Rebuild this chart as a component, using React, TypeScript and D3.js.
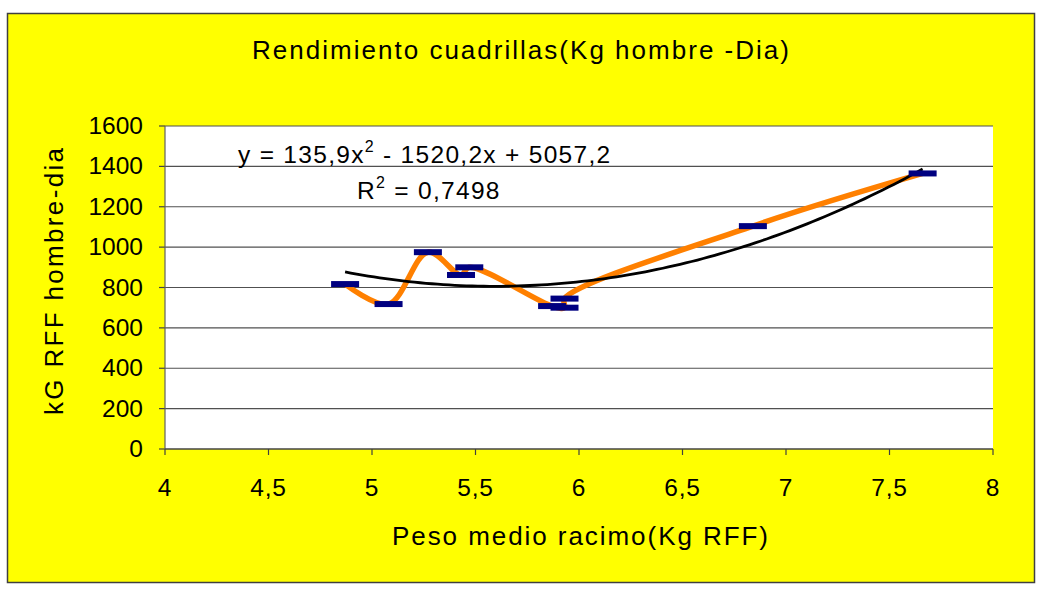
import React from "react";
import * as d3 from "d3";

const pesoX = [4.87, 5.08, 5.27, 5.43, 5.47, 5.87, 5.93, 5.93, 6.84, 7.66];
const rendY = [817, 718, 975, 862, 900, 708, 700, 745, 1104, 1365];
const xTicks = [4, 4.5, 5, 5.5, 6, 6.5, 7, 7.5, 8];
const yTicks = [0, 200, 400, 600, 800, 1000, 1200, 1400, 1600];
const coefA = 135.9;
const coefB = -1520.2;
const coefC = 5057.2;

const W = 1037;
const H = 592;
const M = { left: 165, right: 993, top: 126, bottom: 449 };
const font = "'Liberation Sans', Arial, sans-serif";

export default function App() {
  const x = d3.scaleLinear().domain([4, 8]).range([M.left, M.right]);
  const y = d3.scaleLinear().domain([0, 1600]).range([M.bottom, M.top]);
  const pts: [number, number][] = pesoX.map((v, i) => [v, rendY[i]]);
  const orange = d3
    .line<[number, number]>()
    .x((d) => x(d[0]))
    .y((d) => y(d[1]))
    .curve(d3.curveCatmullRom.alpha(0.5))(pts) as string;
  const xmin = d3.min(pesoX) as number;
  const xmax = d3.max(pesoX) as number;
  const trendPts: [number, number][] = d3
    .range(0, 101)
    .map((i) => {
      const xv = xmin + ((xmax - xmin) * i) / 100;
      return [xv, coefA * xv * xv + coefB * xv + coefC];
    });
  const trend = d3
    .line<[number, number]>()
    .x((d) => x(d[0]))
    .y((d) => y(d[1]))(trendPts) as string;
  const fmt = (v: number) => String(v).replace(".", ",");

  return (
    <svg width={W} height={H} style={{ position: "absolute", left: 0, top: 0 }} fontFamily={font}>
      <rect x={0} y={0} width={W} height={H} fill="#ffffff" />
      <rect x={7.5} y={13.5} width={1027} height={569} fill="#ffff00" stroke="#404040" strokeWidth={1.5} />
      <rect x={M.left} y={M.top} width={M.right - M.left} height={M.bottom - M.top} fill="#ffffff" />
      {yTicks.map((t) => (
        <g key={"y" + t}>
          <line x1={M.left} x2={M.right} y1={y(t)} y2={y(t)} stroke="#505050" strokeWidth={1.2} />
          <line x1={M.left - 6} x2={M.left} y1={y(t)} y2={y(t)} stroke="#404040" strokeWidth={1.2} />
          <text x={143} y={y(t) + 8} fontSize={24.5} textAnchor="end" fill="#000">
            {t}
          </text>
        </g>
      ))}
      {xTicks.map((t) => (
        <g key={"x" + t}>
          <line x1={x(t)} x2={x(t)} y1={M.bottom} y2={M.bottom + 6} stroke="#404040" strokeWidth={1.2} />
          <text x={x(t)} y={496} fontSize={24.5} textAnchor="middle" fill="#000" letterSpacing={0.8}>
            {fmt(t)}
          </text>
        </g>
      ))}
      <line x1={M.left} x2={M.left} y1={M.top} y2={M.bottom} stroke="#606060" strokeWidth={1.2} />
      <line x1={M.left} x2={M.right} y1={M.bottom} y2={M.bottom} stroke="#404040" strokeWidth={1.2} />
      <path d={orange} fill="none" stroke="#ff8000" strokeWidth={5.5} strokeLinejoin="round" />
      <path d={trend} fill="none" stroke="#000" strokeWidth={2.8} />
      {pts.map((p, i) => (
        <rect key={"m" + i} x={x(p[0]) - 14} y={y(p[1]) - 3} width={28} height={6} fill="#000080" />
      ))}
      <text x={238} y={163} fontSize={24.5} fill="#000" letterSpacing={1.3}>
        y = 135,9x<tspan dy={-11} fontSize={16}>2</tspan>
        <tspan dy={11}> - 1520,2x + 5057,2</tspan>
      </text>
      <text x={357} y={199} fontSize={24.5} fill="#000" letterSpacing={1.3}>
        R<tspan dy={-11} fontSize={16}>2</tspan>
        <tspan dy={11}> = 0,7498</tspan>
      </text>
      <text x={252} y={59} fontSize={26} fill="#000" textLength={537} lengthAdjust="spacing">
        Rendimiento cuadrillas(Kg hombre -Dia)
      </text>
      <text x={392} y={545} fontSize={26} fill="#000" textLength={376} lengthAdjust="spacing">
        Peso medio racimo(Kg RFF)
      </text>
      <text
        transform={`translate(63, 415) rotate(-90)`}
        fontSize={26}
        fill="#000"
        textLength={267}
        lengthAdjust="spacing"
      >
        kG RFF hombre-dia
      </text>
    </svg>
  );
}
